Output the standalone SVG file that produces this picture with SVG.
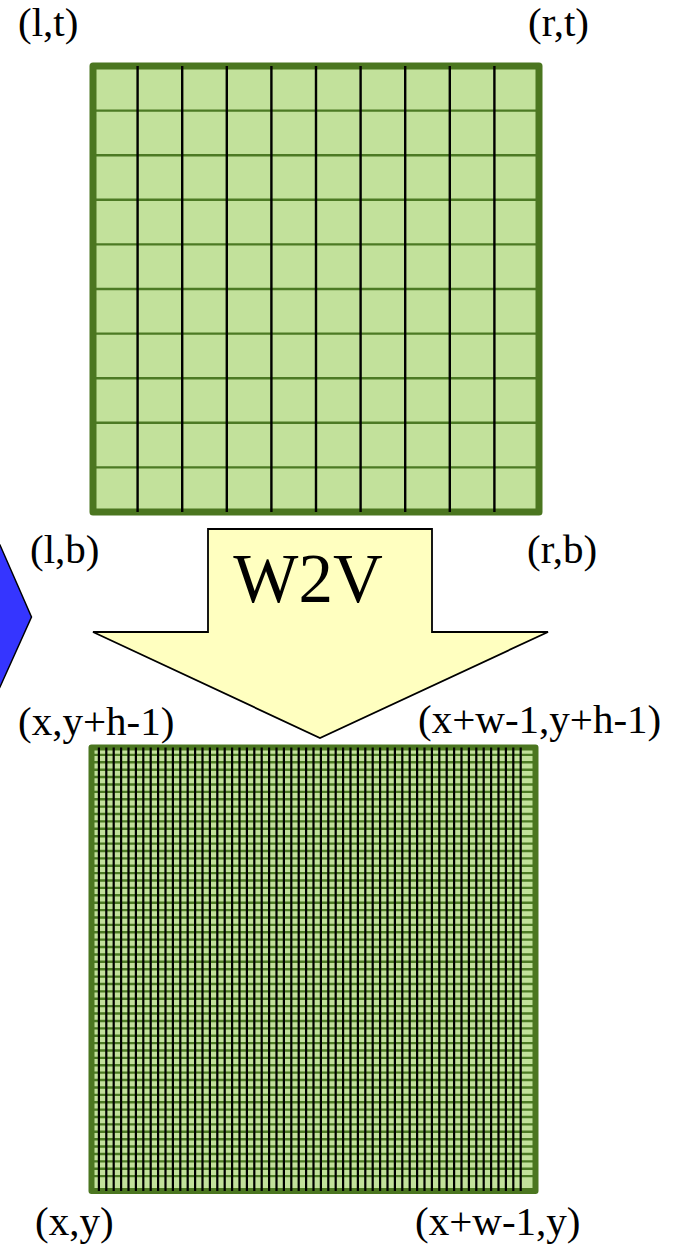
<svg xmlns="http://www.w3.org/2000/svg" width="679" height="1244" viewBox="0 0 679 1244">
<style>
.lbl{font-family:"Liberation Serif","Times New Roman",serif;font-size:41px;fill:#000}
.fill{fill:#c2e19b}
.border{fill:none;stroke:#4b7620;stroke-linejoin:round}
.vl{fill:none;stroke:#000;stroke-width:2.4}
.hl{fill:none;stroke:#4c7a24;stroke-width:2.4}
.vl2{fill:none;stroke:#000;stroke-width:2.2}
.hl2{fill:none;stroke:#4c7a24;stroke-width:2.4}
</style>
<rect width="679" height="1244" fill="#fff"/>
<g id="blue-shape">
<polygon points="-5,538 0,545 31.5,617 0,687 -5,695" fill="#3535ff" stroke="#000" stroke-width="1.5"/>
</g>
<g id="top-grid">
<rect class="fill" x="93" y="66" width="446" height="446"/>
<path class="hl" d="M93,110.6H539M93,155.2H539M93,199.8H539M93,244.4H539M93,289H539M93,333.6H539M93,378.2H539M93,422.8H539M93,467.4H539"/>
<rect class="border" x="93" y="66" width="446" height="446" stroke-width="7"/>
<path class="vl" d="M137.6,66V512M182.2,66V512M226.8,66V512M271.4,66V512M316,66V512M360.6,66V512M405.2,66V512M449.8,66V512M494.4,66V512"/>
</g>
<g id="bottom-grid">
<rect class="fill" x="91.5" y="747.5" width="444" height="443.5"/>
<path class="hl2" d="M91.5,754.9h444m-444,7.39h444m-444,7.39h444m-444,7.39h444m-444,7.39h444m-444,7.39h444m-444,7.39h444m-444,7.39h444m-444,7.39h444m-444,7.39h444m-444,7.39h444m-444,7.39h444m-444,7.39h444m-444,7.39h444m-444,7.39h444m-444,7.39h444m-444,7.39h444m-444,7.39h444m-444,7.39h444m-444,7.39h444m-444,7.39h444m-444,7.39h444m-444,7.39h444m-444,7.39h444m-444,7.39h444m-444,7.39h444m-444,7.39h444m-444,7.39h444m-444,7.39h444m-444,7.39h444m-444,7.39h444m-444,7.39h444m-444,7.39h444m-444,7.39h444m-444,7.39h444m-444,7.39h444m-444,7.39h444m-444,7.39h444m-444,7.39h444m-444,7.39h444m-444,7.39h444m-444,7.39h444m-444,7.39h444m-444,7.39h444m-444,7.39h444m-444,7.39h444m-444,7.39h444m-444,7.39h444m-444,7.39h444m-444,7.39h444m-444,7.39h444m-444,7.39h444m-444,7.39h444m-444,7.39h444m-444,7.39h444m-444,7.39h444m-444,7.39h444m-444,7.39h444"/>
<rect class="border" x="91.5" y="747.5" width="444" height="443.5" stroke-width="6"/>
<path class="vl2" d="M98.9,747.5v443.5m7.4,-443.5v443.5m7.4,-443.5v443.5m7.4,-443.5v443.5m7.4,-443.5v443.5m7.4,-443.5v443.5m7.4,-443.5v443.5m7.4,-443.5v443.5m7.4,-443.5v443.5m7.4,-443.5v443.5m7.4,-443.5v443.5m7.4,-443.5v443.5m7.4,-443.5v443.5m7.4,-443.5v443.5m7.4,-443.5v443.5m7.4,-443.5v443.5m7.4,-443.5v443.5m7.4,-443.5v443.5m7.4,-443.5v443.5m7.4,-443.5v443.5m7.4,-443.5v443.5m7.4,-443.5v443.5m7.4,-443.5v443.5m7.4,-443.5v443.5m7.4,-443.5v443.5m7.4,-443.5v443.5m7.4,-443.5v443.5m7.4,-443.5v443.5m7.4,-443.5v443.5m7.4,-443.5v443.5m7.4,-443.5v443.5m7.4,-443.5v443.5m7.4,-443.5v443.5m7.4,-443.5v443.5m7.4,-443.5v443.5m7.4,-443.5v443.5m7.4,-443.5v443.5m7.4,-443.5v443.5m7.4,-443.5v443.5m7.4,-443.5v443.5m7.4,-443.5v443.5m7.4,-443.5v443.5m7.4,-443.5v443.5m7.4,-443.5v443.5m7.4,-443.5v443.5m7.4,-443.5v443.5m7.4,-443.5v443.5m7.4,-443.5v443.5m7.4,-443.5v443.5m7.4,-443.5v443.5m7.4,-443.5v443.5m7.4,-443.5v443.5m7.4,-443.5v443.5m7.4,-443.5v443.5m7.4,-443.5v443.5m7.4,-443.5v443.5m7.4,-443.5v443.5m7.4,-443.5v443.5"/>
</g>
<g id="w2v-arrow">
<polygon points="208,529 432,529 432,632 548,632 320,738 93,632 208,632" fill="#ffffc0" stroke="#000" stroke-width="1.8" stroke-linejoin="miter"/>
<text x="308" y="602" text-anchor="middle" font-family="Liberation Serif, Times New Roman, serif" font-size="69">W2V</text>
</g>
<g id="labels">
<text class="lbl" x="18" y="36">(l,t)</text>
<text class="lbl" x="528" y="36">(r,t)</text>
<text class="lbl" x="30" y="563">(l,b)</text>
<text class="lbl" x="527" y="563">(r,b)</text>
<text class="lbl" x="18" y="735">(x,y+h-1)</text>
<text class="lbl" x="418" y="733">(x+w-1,y+h-1)</text>
<text class="lbl" x="35" y="1235">(x,y)</text>
<text class="lbl" x="415" y="1235">(x+w-1,y)</text>
</g>
</svg>
